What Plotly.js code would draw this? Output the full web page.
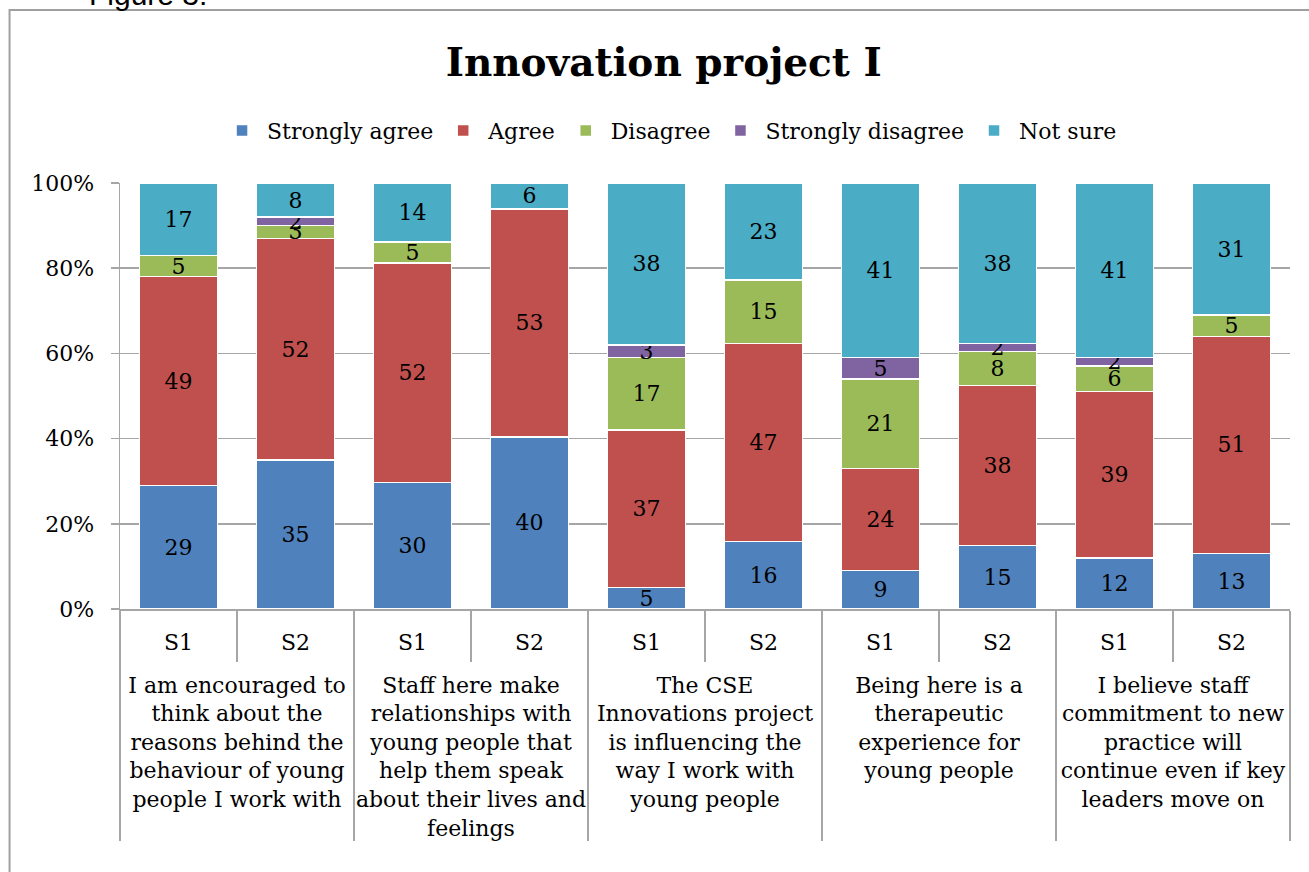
<!DOCTYPE html>
<html>
<head>
<meta charset="utf-8">
<script src="https://cdn.plot.ly/plotly-3.0.1.min.js"></script>
<style>html,body{margin:0;padding:0;background:#fff;}#chart{width:1309px;height:872px;}</style>
</head>
<body>
<div id="chart"></div>
<script>
// ---- data ----
const questions = [
  "<br>I am encouraged to<br>think about the<br>reasons behind the<br>behaviour of young<br>people I work with",
  "<br>Staff here make<br>relationships with<br>young people that<br>help them speak<br>about their lives and<br>feelings",
  "<br>The CSE<br>Innovations project<br>is influencing the<br>way I work with<br>young people",
  "<br>Being here is a<br>therapeutic<br>experience for<br>young people",
  "<br>I believe staff<br>commitment to new<br>practice will<br>continue even if key<br>leaders move on"
];
const surveys = ["S1", "S2"];
const seriesNames = ["Strongly agree", "Agree", "Disagree", "Strongly disagree", "Not sure"];
const stronglyAgree    = [29, 35, 30, 40,  5, 16,  9, 15, 12, 13];
const agree            = [49, 52, 52, 53, 37, 47, 24, 38, 39, 51];
const disagree         = [ 5,  3,  5,  0, 17, 15, 21,  8,  6,  5];
const stronglyDisagree = [ 0,  2,  0,  0,  3,  0,  5,  2,  2,  0];
const notSure          = [17,  8, 14,  6, 38, 23, 41, 38, 41, 31];
const yTickVals = [0, 20, 40, 60, 80, 100];
const yTickText = ["0%", "20%", "40%", "60%", "80%", "100%"];

// ---- build ----
const groupLevel = [], subLevel = [];
questions.forEach(q => surveys.forEach(s => { groupLevel.push(q); subLevel.push(s); }));

const colors = ["#4F81BD", "#C0504D", "#9BBB59", "#8064A2", "#4BACC6"];
const allSeries = [stronglyAgree, agree, disagree, stronglyDisagree, notSure];
const serif = "DejaVu Serif";

const traces = allSeries.map((vals, i) => ({
  type: "bar",
  name: seriesNames[i],
  x: [groupLevel, subLevel],
  y: vals.map(v => v === 0 ? null : v),
  text: vals.map(v => v === 0 ? "" : String(v)),
  textposition: "inside",
  insidetextanchor: "middle",
  textangle: 0,
  textfont: {family: serif, size: 22, color: "#000"},
  marker: {color: colors[i], line: {color: "#fff", width: 1.5}},
  hoverinfo: "name+y"
}));

const layout = {
  width: 1309, height: 872,
  margin: {l: 120, r: 19, t: 183, b: 263},
  paper_bgcolor: "#fff", plot_bgcolor: "#fff",
  barmode: "stack", barnorm: "percent", bargap: 0.33,
  font: {family: serif, color: "#000", size: 22},
  title: {
    text: "Innovation project I",
    font: {family: serif, size: 39, weight: 700, color: "#000"},
    x: 0.507, xanchor: "center", y: 0.929, yanchor: "middle"
  },
  showlegend: true,
  legend: {
    orientation: "h", x: 0.4697, xanchor: "center", y: 1.123, yanchor: "middle",
    font: {family: serif, size: 22, color: "#000"},
    traceorder: "normal", itemwidth: 40
  },
  uniformtext: {mode: "show", minsize: 22},
  xaxis: {
    type: "multicategory",
    showline: true, linecolor: "#A6A6A6", linewidth: 1.5,
    ticks: "outside", ticklen: 51, tickcolor: "#A6A6A6", tickwidth: 1.5,
    tickson: "boundaries",
    showdividers: true, dividercolor: "#A6A6A6", dividerwidth: 1.5,
    tickfont: {family: serif, size: 22, color: "#000"},
    ticklabelstandoff: 13,
    showgrid: false
  },
  yaxis: {
    range: [0, 100], tickvals: yTickVals, ticktext: yTickText,
    showline: true, linecolor: "#A6A6A6", linewidth: 1.5,
    ticks: "outside", ticklen: 8, tickcolor: "#A6A6A6", tickwidth: 1.5,
    showgrid: true, gridcolor: "#A6A6A6", gridwidth: 1.5,
    zeroline: false,
    tickfont: {family: serif, size: 22, color: "#000"},
    ticklabelstandoff: 12
  },
  shapes: [{
    type: "rect", xref: "paper", yref: "paper",
    x0: -0.0944, x1: 1.03, y0: 1.406, y1: -0.7,
    line: {color: "#A0A0A0", width: 2}, fillcolor: "rgba(0,0,0,0)", layer: "below"
  }],
  annotations: [{
    text: "Figure 3:", xref: "paper", yref: "paper",
    x: -0.028, xanchor: "left", y: 1.398, yanchor: "bottom",
    showarrow: false, font: {family: "Liberation Sans", size: 30, color: "#000"}
  }]
};

Plotly.newPlot("chart", traces, layout, {displayModeBar: false, staticPlot: true});
</script>
</body>
</html>
